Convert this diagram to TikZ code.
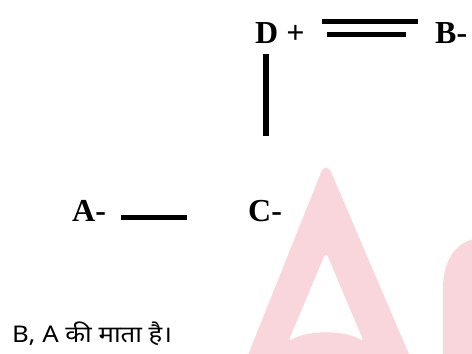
\documentclass[tikz,border=0pt]{standalone}
\usepackage{fontspec}
\usepackage{graphicx}
\setmainfont{Liberation Serif}
\newfontfamily\hindi[Script=Devanagari]{Noto Sans}
\definecolor{wm}{HTML}{F9D6DB}
\tikzset{
  lbl/.style={font=\fontsize{32}{36}\selectfont\bfseries, inner sep=0pt, anchor=base west},
  bond/.style={line width=5pt},
}
\begin{document}
\begin{tikzpicture}[x=1pt,y=-1pt]
\useasboundingbox (0,0) rectangle (472,354);
\begin{scope}
\clip (0,0) rectangle (472,354);
% watermark
\fill[wm, even odd rule, rounded corners=14pt]
  (238,380) -- (326,160) -- (420,380) -- cycle
  [rounded corners=5pt] (326,252) -- (364,342) .. controls (345,330) and (307,330) .. (288,342) -- cycle;
\fill[wm] (443,360) -- (443,288) .. controls (443,258) and (458,240) .. (480,238) -- (480,360) -- cycle;
\end{scope}
% labels
\node[lbl] (d) at (255,43) {D +};
\node[lbl] (b) at (435,43) {B-};
\node[lbl] (a) at (72,221) {A-};
\node[lbl] (c) at (248,221) {C-};
\node[inner sep=0pt, anchor=base west, font=\hindi\fontsize{23}{27}\selectfont] (t) at (12,342) {\scalebox{1.12}[1]{B, A की माता है।}};
% bonds
\coordinate (db1) at (322,21); \coordinate (db2) at (418,21);
\coordinate (db3) at (327,34); \coordinate (db4) at (406,34);
\draw[bond] (db1) -- (db2);
\draw[bond] (db3) -- (db4);
\coordinate (v1) at (266,54); \coordinate (v2) at (266,136);
\draw[line width=6pt] (v1) -- (v2);
\coordinate (h1) at (121,217); \coordinate (h2) at (187,217);
\draw[bond] (h1) -- (h2);
\end{tikzpicture}
\end{document}
